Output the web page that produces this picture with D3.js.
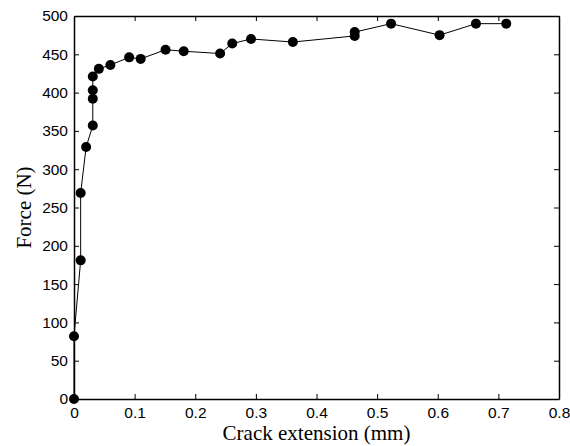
<!DOCTYPE html>
<html>
<head>
<meta charset="utf-8">
<script src="https://cdn.jsdelivr.net/npm/d3@7"></script>
<style>
  body { margin: 0; background: #fff; }
  .tick text { font-family: "Liberation Sans", Arial, sans-serif; font-size: 15.5px; fill: #000; }
  .title { font-family: "Liberation Serif", "Times New Roman", serif; font-size: 21px; fill: #000; }
</style>
</head>
<body>
<div id="chart"></div>
<script>
// crack extension (mm) and force (N)
const extension = [0, 0, 0.011, 0.011, 0.020, 0.031, 0.031, 0.031, 0.031, 0.041, 0.060, 0.091,
    0.110, 0.151, 0.181, 0.241, 0.261, 0.292, 0.361, 0.463, 0.463, 0.523, 0.603, 0.663, 0.713];
const force = [0, 82, 181, 269, 329, 357, 392, 403, 421, 431, 436, 446,
    444, 456, 454, 451, 464, 470, 466, 474, 479, 490, 475, 490, 490];
const xTicks = [0, 0.1, 0.2, 0.3, 0.4, 0.5, 0.6, 0.7, 0.8];
const yTicks = [0, 50, 100, 150, 200, 250, 300, 350, 400, 450, 500];

const [svgWidth, svgHeight] = [570, 446];
const margin = { left: 74, right: 11, top: 16, bottom: 47 };
const [width, height] = [svgWidth - margin.left - margin.right, svgHeight - margin.top - margin.bottom];

function translate(x, y) {
    return 'translate(' + x + ',' + y + ')';
}

const svg = d3.select('#chart').append('svg')
    .attr('width', svgWidth)
    .attr('height', svgHeight);

const g = svg.append('g').attr('transform', translate(margin.left, margin.top));

const xScale = d3.scaleLinear().domain([0, 0.8]).range([0, width]);
const yScale = d3.scaleLinear().domain([0, 500]).range([height, 0]);

const fmtX = d => d === 0 ? '0' : d3.format('.1f')(d);

// box axes, ticks pointing inward
g.append('g').attr('transform', translate(0, height))
    .call(d3.axisBottom(xScale).tickValues(xTicks).tickFormat(fmtX).tickSizeInner(-5).tickSizeOuter(0).tickPadding(8));
g.append('g')
    .call(d3.axisTop(xScale).tickValues(xTicks).tickFormat('').tickSizeInner(-5).tickSizeOuter(0));
g.append('g')
    .call(d3.axisLeft(yScale).tickValues(yTicks).tickSizeInner(-5).tickSizeOuter(0).tickPadding(6));
g.append('g').attr('transform', translate(width, 0))
    .call(d3.axisRight(yScale).tickValues(yTicks).tickFormat('').tickSizeInner(-5).tickSizeOuter(0));

g.selectAll('.domain').attr('stroke', '#000').attr('stroke-width', 1.5);
g.selectAll('.tick line').attr('stroke', '#000').attr('stroke-width', 1);

const data = extension.map((x, i) => [x, force[i]]);

const line = d3.line()
    .x(d => xScale(d[0]))
    .y(d => yScale(d[1]));

g.append('path')
    .datum(data)
    .attr('fill', 'none')
    .attr('stroke', '#000')
    .attr('stroke-width', 1)
    .attr('d', line);

g.selectAll('circle.pt')
    .data(data)
    .enter().append('circle')
    .attr('class', 'pt')
    .attr('cx', d => xScale(d[0]))
    .attr('cy', d => yScale(d[1]))
    .attr('r', 5)
    .attr('fill', '#000');

svg.append('text')
    .attr('class', 'title')
    .attr('x', margin.left + width / 2)
    .attr('y', 440)
    .attr('text-anchor', 'middle')
    .text('Crack extension (mm)');

svg.append('text')
    .attr('class', 'title')
    .attr('transform', translate(31, margin.top + height / 2) + ' rotate(-90)')
    .attr('text-anchor', 'middle')
    .text('Force (N)');
</script>
</body>
</html>
